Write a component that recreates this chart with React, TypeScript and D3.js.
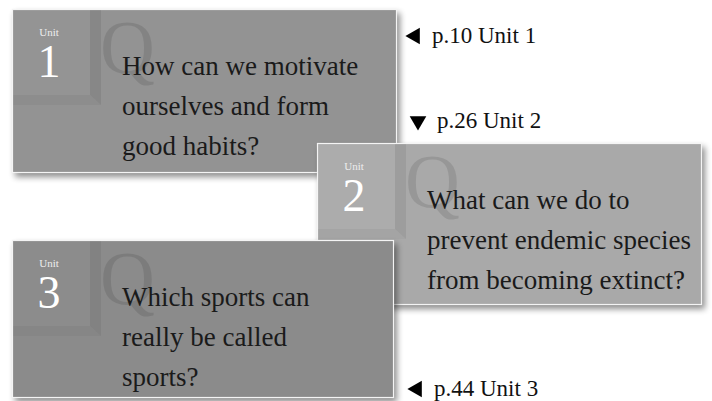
import React from "react";
import * as d3 from "d3";

// unit cards: number, question lines, page reference
const unitNumbers = ["1", "2", "3"];
const questionLines = [
  ["How can we motivate", "ourselves and form", "good habits?"],
  ["What can we do to", "prevent endemic species", "from becoming extinct?"],
  ["Which sports can", "really be called", "sports?"],
];
const pageRefs = ["p.10 Unit 1", "p.26 Unit 2", "p.44 Unit 3"];
const pointers = ["left", "down", "left"];

// card boxes (layout only)
const cardBoxes = [
  { x: 12, y: 9, w: 385, h: 164, fill: "#939393", box: "#949494", strip: "#858585" },
  { x: 317, y: 143, w: 385, h: 162, fill: "#a9a9a9", box: "#acacac", strip: "#9a9a9a" },
  { x: 12, y: 240, w: 382, h: 158, fill: "#8b8b8b", box: "#8c8c8c", strip: "#7f7f7f" },
];
const refPos = [
  { x: 407, y: 43 },
  { x: 410, y: 128 },
  { x: 409, y: 396 },
];

const W = 712;
const H = 401;

const Card = ({ i }: { i: number }) => {
  const c = cardBoxes[i];
  const lineY = d3.scaleLinear().domain([0, 1]).range([c.y + 65.5, c.y + 105.5]);
  return (
    <g>
      <rect x={c.x} y={c.y} width={c.w} height={c.h} fill={c.fill} filter="url(#shadow)" />
      {/* unit box bevel */}
      <path
        d={`M${c.x + 78},${c.y} L${c.x + 89},${c.y} L${c.x + 89},${c.y + 96} L${c.x + 78},${c.y + 86} Z`}
        fill={c.strip}
        opacity={0.8}
      />
      <path
        d={`M${c.x},${c.y + 86} L${c.x + 78},${c.y + 86} L${c.x + 89},${c.y + 96} L${c.x},${c.y + 96} Z`}
        fill={c.strip}
        opacity={0.35}
      />
      <rect x={c.x} y={c.y} width={78} height={86} fill={c.box} />
      <text
        x={c.x + 88}
        y={c.y + 64}
        fontFamily="Liberation Serif"
        fontSize={76}
        fill="#000"
        opacity={0.1}
      >
        Q
      </text>
      <text
        x={c.x + 37}
        y={c.y + 27}
        textAnchor="middle"
        fontFamily="Liberation Serif"
        fontSize={11}
        fill="#eeeeee"
      >
        Unit
      </text>
      <text
        x={c.x + 37}
        y={c.y + 68}
        textAnchor="middle"
        fontFamily="Liberation Serif"
        fontSize={46}
        fill="#ffffff"
      >
        {unitNumbers[i]}
      </text>
      {questionLines[i].map((t, k) => (
        <text
          key={k}
          x={c.x + 110}
          y={lineY(k)}
          fontFamily="Liberation Serif"
          fontSize={27}
          fill="#1a1a1a"
        >
          {t}
        </text>
      ))}
      <rect
        x={c.x + 0.5}
        y={c.y + 0.5}
        width={c.w - 1}
        height={c.h - 1}
        fill="none"
        stroke="#f4f4f4"
        strokeWidth={1.2}
      />
    </g>
  );
};

const App = () => {
  const tri = d3.symbol().type(d3.symbolTriangle).size(120);
  return (
    <svg width={W} height={H} style={{ position: "absolute", left: 0, top: 0 }}>
      <defs>
        <filter id="shadow" x="-5%" y="-5%" width="115%" height="125%">
          <feGaussianBlur in="SourceAlpha" stdDeviation="3" />
          <feOffset dx="3" dy="4" result="b" />
          <feComponentTransfer>
            <feFuncA type="linear" slope="0.45" />
          </feComponentTransfer>
          <feMerge>
            <feMergeNode />
            <feMergeNode in="SourceGraphic" />
          </feMerge>
        </filter>
      </defs>
      <rect width={W} height={H} fill="#fff" />
      {cardBoxes.map((_, i) => (
        <Card key={i} i={i} />
      ))}
      {pageRefs.map((t, i) => {
        const p = refPos[i];
        const rot = pointers[i] === "left" ? -90 : 180;
        return (
          <g key={i}>
            <path
              d={tri() || ""}
              transform={`translate(${p.x + 8},${p.y - 7}) rotate(${rot})`}
              fill="#000"
            />
            <text
              x={p.x + (pointers[i] === "left" ? 25 : 27)}
              y={p.y}
              fontFamily="Liberation Serif"
              fontSize={23}
              fill="#111"
            >
              {t}
            </text>
          </g>
        );
      })}
    </svg>
  );
};

export default App;
